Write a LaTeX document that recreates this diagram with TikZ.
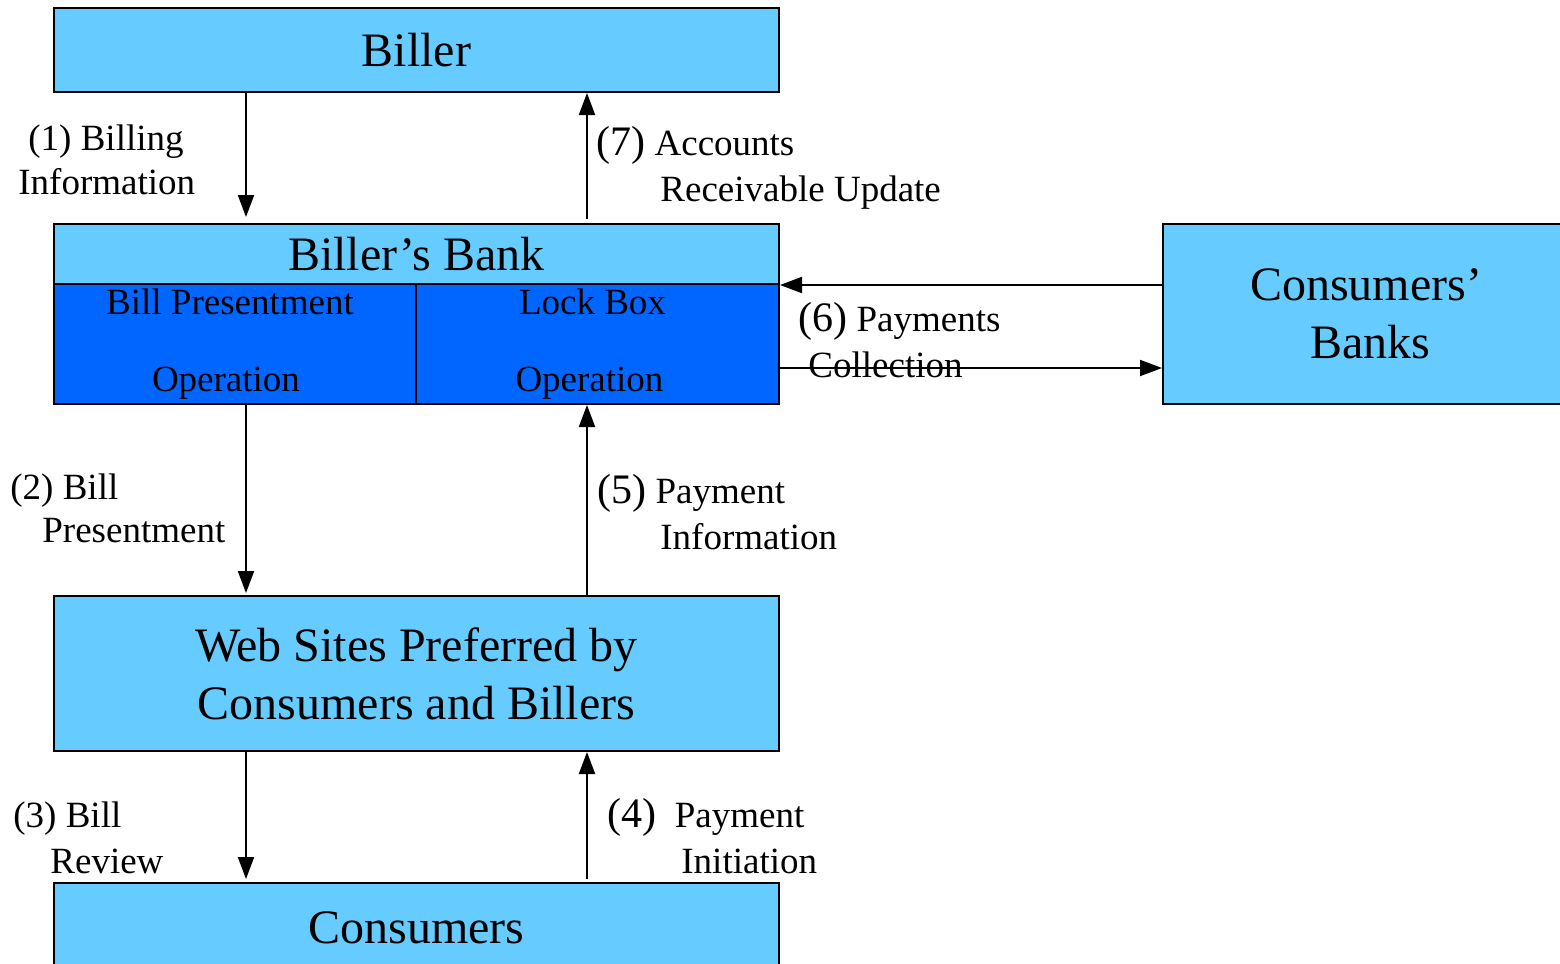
\documentclass[tikz,border=0pt]{standalone}
\usepackage{fontspec}
\setmainfont{Liberation Serif}
\usetikzlibrary{arrows.meta}

\definecolor{lightblue}{HTML}{66CCFF}
\definecolor{opblue}{HTML}{0066FF}

\newcommand{\boxfont}{\fontsize{24}{29}\selectfont}
\newcommand{\lblfont}{\fontsize{18.5}{22}\selectfont}
\newcommand{\numfont}{\fontsize{21}{22}\selectfont}

\tikzset{
    unit/.style = {draw=black, line width=1pt, inner sep=0pt, align=center, font=\boxfont},
    flow/.style = {line width=1pt, -{Triangle[length=11pt, width=8pt]}},
    lbl/.style = {anchor=base west, inner sep=0pt, font=\lblfont}
}

\begin{document}
\begin{tikzpicture}[x=0.5pt, y=-0.5pt]
    \useasboundingbox (0,0) rectangle (1560,964);
    \clip (0,0) rectangle (1560,964);

    \def \w {362.5pt};

    \coordinate (cl) at (246,0);
    \coordinate (cr) at (587,0);
    \coordinate (pay) at (0,368);

    % boxes
    \node[unit, fill=lightblue, minimum width=\w, minimum height=42pt] (biller) at (416.5,50) {Biller};
    \node[unit, fill=lightblue, minimum width=\w, minimum height=30pt] (bank) at (416.5,254) {Biller’s Bank};
    \node[unit, fill=opblue, minimum width=181pt, minimum height=60pt, font=\lblfont] (present) at (235,344) {Bill Presentment\hspace*{5pt}\\[16.5pt]Operation\hspace*{9pt}};
    \node[unit, fill=opblue, minimum width=181.5pt, minimum height=60pt, font=\lblfont] (lockbox) at (597.5,344) {Lock Box\hspace*{5pt}\\[16.5pt]Operation\hspace*{8pt}};
    \node[unit, fill=lightblue, minimum width=\w, minimum height=77.5pt] (web) at (416.5,673.5) {Web Sites Preferred by\\Consumers and Billers};
    \node[unit, fill=lightblue, minimum width=\w, minimum height=45pt] (consumers) at (416.5,928) {Consumers};
    \node[unit, fill=lightblue, minimum width=207pt, minimum height=90pt] (cbanks) at (1370,314) {Consumers’\hspace*{4pt}\\Banks};

    % flows
    \draw[flow, shorten >=3pt] (biller.south -| cl) -- (bank.north -| cl);
    \draw[flow, shorten <=2pt] (bank.north -| cr) -- (biller.south -| cr);
    \draw[flow] (bank.south east -| cbanks.west) -- (bank.south east);
    \draw[flow] (lockbox.east |- pay) -- (cbanks.west |- pay);
    \draw[flow, shorten >=1pt] (present.south -| cl) -- (web.north -| cl);
    \draw[flow] (web.north -| cr) -- (lockbox.south -| cr);
    \draw[flow, shorten >=1.5pt] (web.south -| cl) -- (consumers.north -| cl);
    \draw[flow, shorten <=1.5pt] (consumers.north -| cr) -- (web.south -| cr);

    % labels
    \node[lbl] (l1a) at (28,150) {(1) Billing};
    \node[lbl] (l1b) at (18,194) {Information};
    \node[lbl] (l7a) at (596,155) {{\numfont(7)} Accounts};
    \node[lbl] (l7b) at (660,201) {Receivable Update};
    \node[lbl] (l6a) at (798,331) {{\numfont(6)} Payments};
    \node[lbl] (l6b) at (808,377) {Collection};
    \node[lbl] (l2a) at (10,499) {(2) Bill};
    \node[lbl] (l2b) at (42,542) {Presentment};
    \node[lbl] (l5a) at (597,503) {{\numfont(5)} Payment};
    \node[lbl] (l5b) at (660,549) {Information};
    \node[lbl] (l3a) at (13,827) {(3) Bill};
    \node[lbl] (l3b) at (50,873) {Review};
    \node[lbl] (l4a) at (607,827) {{\numfont(4)}\ \ Payment};
    \node[lbl] (l4b) at (681,873) {Initiation};
\end{tikzpicture}
\end{document}
